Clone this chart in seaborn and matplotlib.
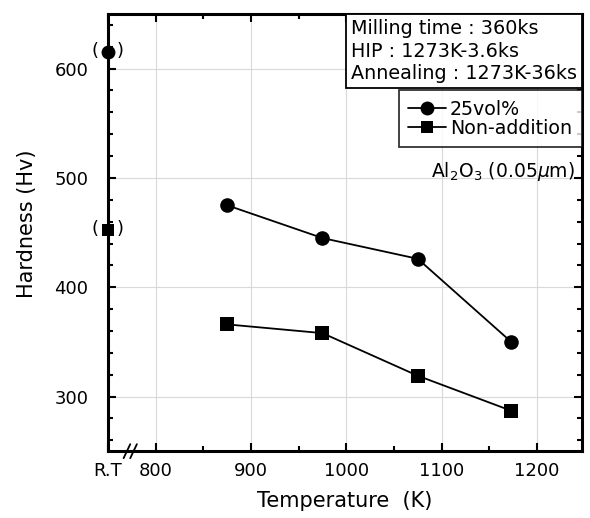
import numpy as np
import pandas as pd
import matplotlib
matplotlib.use("Agg")
import matplotlib.pyplot as plt
from matplotlib.lines import Line2D
from matplotlib.ticker import MultipleLocator
import seaborn as sns

# data
temps = [875, 975, 1075, 1173]
hv_25vol = [475, 445, 426, 350]
hv_nonadd = [366, 358, 319, 287]
rt_25vol = 615
rt_nonadd = 452
series_names = ["25vol%", "Non-addition"]
x_ticks = [750, 800, 900, 1000, 1100, 1200]
x_labels = ["R.T", "800", "900", "1000", "1100", "1200"]
y_ticks = [300, 400, 500, 600]
RT_X = 750

df = pd.DataFrame({
    "T": temps * 2,
    "Hv": hv_25vol + hv_nonadd,
    "series": [series_names[0]] * 4 + [series_names[1]] * 4,
})

sns.set_style("white")
plt.rcParams["font.family"] = ["DejaVu Sans"]
plt.rcParams["mathtext.fontset"] = "dejavusans"
for k in ("text.color", "axes.labelcolor", "xtick.color", "ytick.color"):
    plt.rcParams[k] = "black"

fig = plt.figure(figsize=(5.9, 5.18), dpi=100)
ax = fig.add_axes([0.183, 0.129, 0.803, 0.844])

sns.lineplot(data=df, x="T", y="Hv", style="series",
             markers={"25vol%": "o", "Non-addition": "s"}, dashes=False,
             color="black", linewidth=1.3, markersize=10.5, markeredgewidth=0,
             legend=False, ax=ax)

# room temperature points with brackets
ax.plot([RT_X], [rt_25vol], "o", color="black", ms=10, mew=0, clip_on=False, zorder=5)
ax.plot([RT_X], [rt_nonadd], "s", color="black", ms=8.5, mew=0, clip_on=False, zorder=5)
for yv in (rt_25vol, rt_nonadd):
    for dx, ch in ((-9, "("), (9, ")")):
        ax.annotate(ch, xy=(RT_X, yv), xytext=(dx, 1), textcoords="offset points",
                    ha="center", va="center", fontsize=13, annotation_clip=False)

ax.set_xlim(750, 1247)
ax.set_ylim(250, 650)
ax.set_xticks(x_ticks)
ax.set_xticklabels(x_labels)
ax.set_yticks(y_ticks)
ax.xaxis.set_minor_locator(MultipleLocator(50))
ax.yaxis.set_minor_locator(MultipleLocator(20))
ax.tick_params(which="both", direction="in", top=True, right=True,
               bottom=True, left=True, width=1.5, colors="black")
ax.tick_params(which="major", length=6, labelsize=13)
ax.tick_params(which="minor", length=3.5)
ax.tick_params(axis="x", which="major", pad=8)
ax.tick_params(axis="y", which="major", pad=14)
for s in ax.spines.values():
    s.set_linewidth(2.2)
    s.set_color("black")

for xv in x_ticks[1:]:
    ax.axvline(xv, color="#d9d9d9", lw=0.8, zorder=0)
for yv in y_ticks:
    ax.axhline(yv, color="#d9d9d9", lw=0.8, zorder=0)

ax.set_xlabel("Temperature  (K)", fontsize=15, labelpad=8)
ax.set_ylabel("Hardness (Hv)", fontsize=15)
ax.yaxis.set_label_coords(-0.15, 0.52)

# axis break marks
for dx in (0.04, 0.054):
    ax.plot([dx - 0.007, dx + 0.007], [-0.016, 0.016], color="black", lw=1.3,
            transform=ax.transAxes, clip_on=False, zorder=6)

ax.text(0.99, 0.988, "Milling time : 360ks\nHIP : 1273K-3.6ks\nAnnealing : 1273K-36ks",
        transform=ax.transAxes, ha="right", va="top", multialignment="left",
        fontsize=13.8, linespacing=1.24,
        bbox=dict(boxstyle="square,pad=0.25", fc="white", ec="black", lw=1.3))

handles = [Line2D([], [], color="black", marker="o", ms=10, mew=0, lw=1.3),
           Line2D([], [], color="black", marker="s", ms=8.5, mew=0, lw=1.3)]
leg = ax.legend(handles, series_names, loc="upper right",
                bbox_to_anchor=(1.0, 0.826), fontsize=13.7, frameon=True,
                fancybox=False, edgecolor="black", handlelength=2.0,
                handletextpad=0.2, labelspacing=0.0, borderpad=0.5,
                borderaxespad=0)
leg.get_frame().set_linewidth(1.3)

ax.text(0.985, 0.64, r"Al$_2$O$_3$ (0.05$\mu$m)", transform=ax.transAxes,
        ha="right", va="center", fontsize=13.5)

fig.savefig("out.png", dpi=100)
